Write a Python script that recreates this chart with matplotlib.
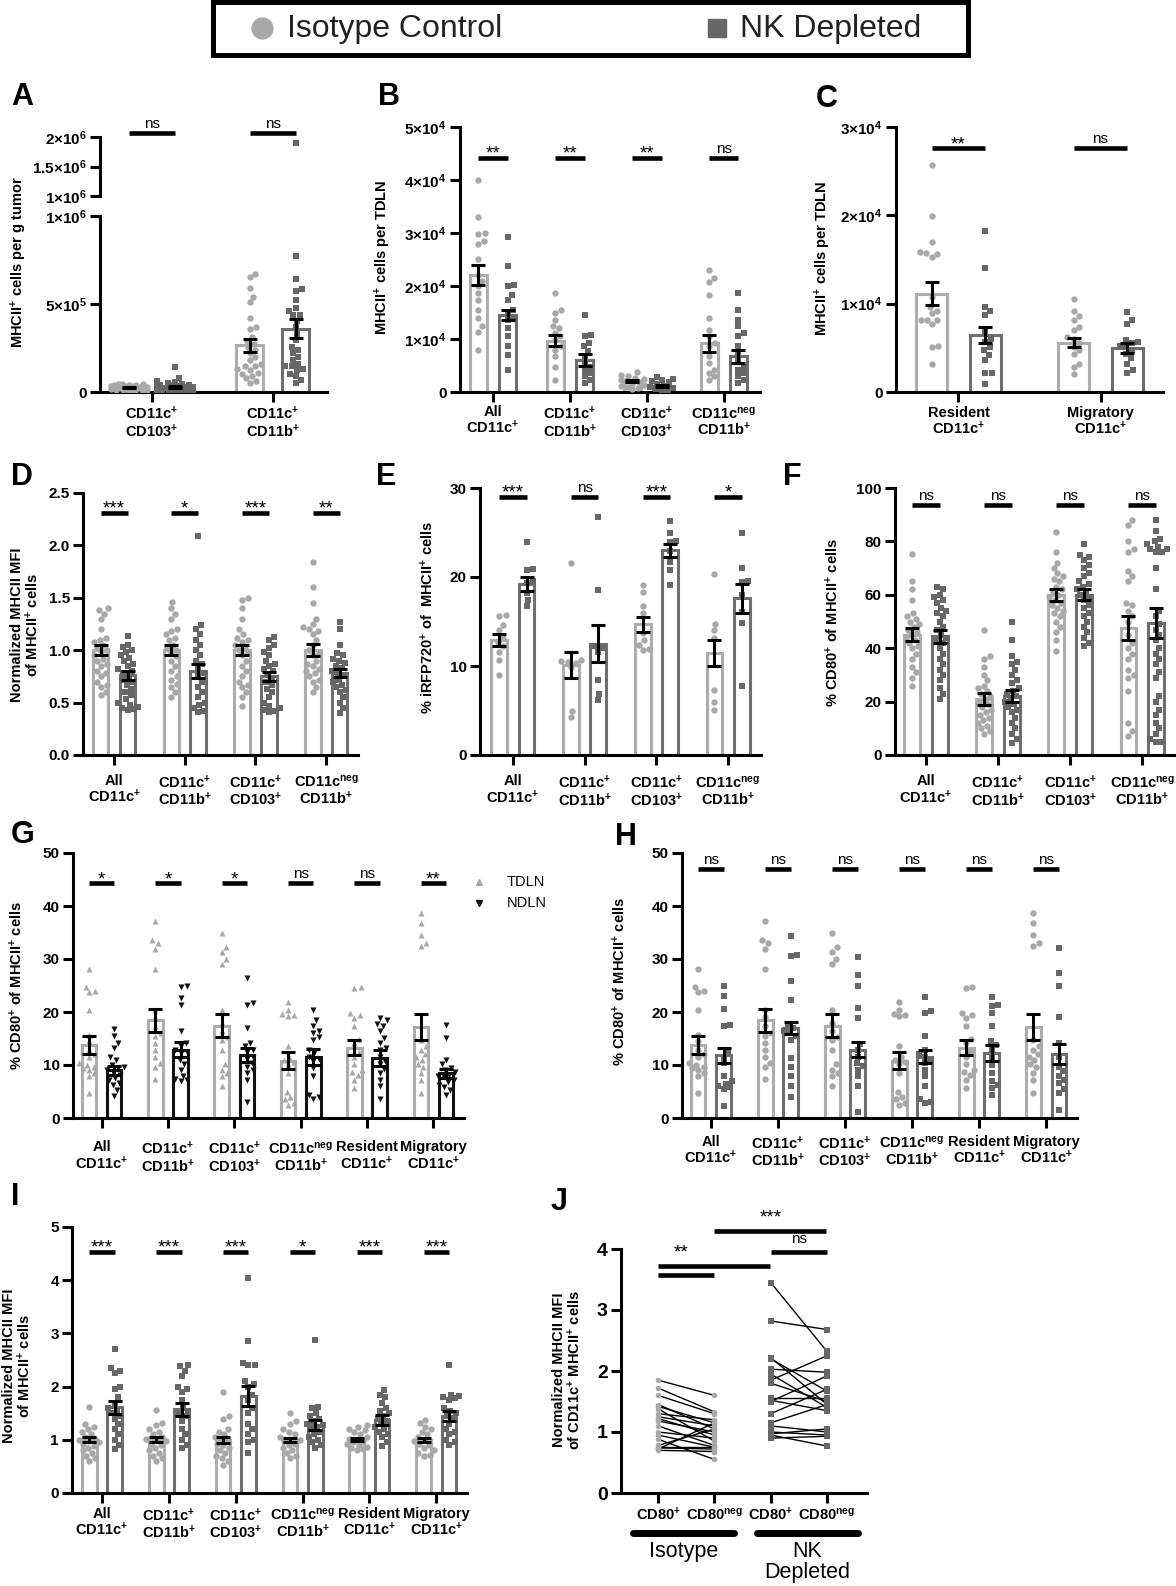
import numpy as np
import matplotlib
matplotlib.use("Agg")
import matplotlib.pyplot as plt
import matplotlib.transforms as mtrans
from matplotlib.lines import Line2D
from matplotlib.patches import Rectangle

W, H = 1176, 1586
plt.rcParams['font.family'] = ['Liberation Sans', 'DejaVu Sans']
plt.rcParams['mathtext.fontset'] = 'custom'
plt.rcParams['mathtext.rm'] = 'Liberation Sans'
plt.rcParams['mathtext.bf'] = 'Liberation Sans:bold'
plt.rcParams['mathtext.default'] = 'bf'

ISO_PT, ISO_EDGE = '#a8a8a8', '#adadad'
NK_PT, NK_EDGE = '#676767', '#6e6e6e'

# ---------------- data ----------------
cats2 = ['CD11c$^{+}$\nCD103$^{+}$', 'CD11c$^{+}$\nCD11b$^{+}$']
cats4 = ['All\nCD11c$^{+}$', 'CD11c$^{+}$\nCD11b$^{+}$', 'CD11c$^{+}$\nCD103$^{+}$', 'CD11c$^{neg}$\nCD11b$^{+}$']
cats6 = cats4 + ['Resident\nCD11c$^{+}$', 'Migratory\nCD11c$^{+}$']
catsC = ['Resident\nCD11c$^{+}$', 'Migratory\nCD11c$^{+}$']

# A: MHCII+ cells per g tumor
a_iso = [[4.8e4, 4.6e4, 4.4e4, 4.2e4, 4.0e4, 3.8e4, 3.6e4, 3.4e4, 3.2e4, 3.0e4, 2.9e4, 2.7e4, 2.5e4, 2.4e4,
          2.2e4, 2.1e4, 2.0e4, 1.8e4, 1.6e4, 1.5e4, 1.3e4, 1.2e4, 1.0e4, 0.9e4, 0.7e4, 0.5e4],
         [6.7e5, 6.55e5, 5.9e5, 5.4e5, 5.1e5, 4.2e5, 3.7e5, 3.6e5, 3.1e5, 2.9e5, 2.75e5, 2.55e5, 2.4e5, 2.2e5,
          2.0e5, 1.8e5, 1.6e5, 1.5e5, 1.45e5, 1.3e5, 1.25e5, 1.1e5, 1.05e5, 0.9e5, 0.8e5, 0.6e5, 0.5e5]]
a_nk = [[1.4e5, 8.0e4, 6.5e4, 5.5e4, 5.0e4, 4.5e4, 4.2e4, 4.0e4, 3.7e4, 3.5e4, 3.2e4, 3.0e4, 2.8e4, 2.5e4, 2.3e4,
         2.0e4, 1.9e4, 1.8e4, 1.6e4, 1.5e4, 1.3e4, 1.2e4, 1.0e4, 0.9e4, 0.8e4, 0.6e4, 0.5e4, 0.3e4],
        [1.9e6, 7.7e5, 6.4e5, 5.85e5, 5.75e5, 5.2e5, 4.8e5, 4.6e5, 4.4e5, 4.35e5, 4.05e5, 3.7e5, 3.3e5, 2.95e5,
         2.55e5, 2.4e5, 2.2e5, 2.0e5, 1.8e5, 1.6e5, 1.5e5, 1.45e5, 1.3e5, 1.25e5, 1.05e5, 0.9e5, 0.7e5, 0.5e5]]
a_iso_mean, a_iso_sem = [2.5e4, 2.65e5], [0.35e4, 0.35e5]
a_nk_mean, a_nk_sem = [3.0e4, 3.6e5], [0.5e4, 0.55e5]
a_sig = ['ns', 'ns']

# B: MHCII+ cells per TDLN (units of 1e4)
b_iso = [[4.0, 3.3, 3.0, 2.98, 2.84, 2.8, 2.5, 2.2, 2.1, 2.0, 1.86, 1.74, 1.55, 1.4, 1.24, 1.14, 0.8],
         [1.86, 1.55, 1.49, 1.36, 1.24, 1.2, 1.11, 1.05, 0.98, 0.86, 0.8, 0.67, 0.48, 0.23],
         [0.38, 0.33, 0.3, 0.27, 0.25, 0.22, 0.2, 0.18, 0.16, 0.14, 0.12, 0.1, 0.08, 0.05],
         [2.3, 2.15, 2.08, 1.83, 1.4, 1.17, 1.05, 0.92, 0.86, 0.67, 0.55, 0.42, 0.36, 0.3, 0.23]]
b_nk = [[2.93, 2.37, 2.02, 2.0, 1.83, 1.74, 1.55, 1.49, 1.4, 1.36, 1.2, 1.05, 0.86, 0.7, 0.42],
        [1.45, 1.08, 1.05, 0.92, 0.86, 0.77, 0.67, 0.55, 0.48, 0.42, 0.36, 0.3, 0.23, 0.17],
        [0.28, 0.25, 0.22, 0.2, 0.18, 0.15, 0.12, 0.1, 0.08, 0.06, 0.04, 0.02],
        [1.86, 1.55, 1.36, 1.24, 1.11, 1.05, 0.86, 0.73, 0.61, 0.48, 0.42, 0.36, 0.3, 0.23, 0.17]]
b_iso_mean, b_iso_sem = [2.2, 0.97, 0.2, 0.92], [0.19, 0.11, 0.02, 0.16]
b_nk_mean, b_nk_sem = [1.45, 0.6, 0.12, 0.67], [0.1, 0.11, 0.02, 0.13]
b_sig = ['**', '**', '**', 'ns']

# C: resident / migratory per TDLN (units of 1e4)
c_iso = [[2.57, 1.99, 1.7, 1.59, 1.57, 1.56, 1.53, 1.08, 0.96, 0.92, 0.89, 0.82, 0.82, 0.81, 0.77, 0.52, 0.51, 0.32],
         [1.05, 0.92, 0.86, 0.82, 0.74, 0.70, 0.62, 0.6, 0.55, 0.51, 0.47, 0.43, 0.32, 0.28, 0.2]]
c_nk = [[1.82, 1.4, 0.96, 0.92, 0.87, 0.68, 0.6, 0.57, 0.51, 0.47, 0.42, 0.36, 0.22, 0.22, 0.09],
        [0.91, 0.82, 0.77, 0.59, 0.57, 0.55, 0.52, 0.51, 0.47, 0.43, 0.38, 0.32, 0.25, 0.21]]
c_iso_mean, c_iso_sem = [1.11, 0.56], [0.13, 0.055]
c_nk_mean, c_nk_sem = [0.65, 0.5], [0.09, 0.06]
c_sig = ['**', 'ns']

# D: normalized MHCII MFI
d_iso = [[1.4, 1.38, 1.35, 1.3, 1.2, 1.12, 1.1, 1.08, 1.05, 1.03, 1.0, 0.98, 0.95, 0.92, 0.9, 0.87, 0.85, 0.8,
          0.78, 0.75, 0.7, 0.67, 0.65, 0.6, 0.57],
         [1.46, 1.4, 1.35, 1.3, 1.2, 1.18, 1.15, 1.12, 1.1, 1.05, 1.02, 1.0, 0.97, 0.94, 0.9, 0.85, 0.8, 0.75,
          0.72, 0.68, 0.65, 0.6, 0.55],
         [1.5, 1.48, 1.4, 1.3, 1.2, 1.15, 1.12, 1.1, 1.08, 1.05, 1.02, 1.0, 0.97, 0.95, 0.9, 0.85, 0.8, 0.75, 0.7,
          0.67, 0.65, 0.6, 0.55, 0.47],
         [1.84, 1.6, 1.45, 1.3, 1.25, 1.22, 1.2, 1.18, 1.15, 1.1, 1.05, 1.0, 0.97, 0.95, 0.9, 0.87, 0.85, 0.82, 0.8,
          0.78, 0.75, 0.72, 0.7, 0.65, 0.6]]
d_nk = [[1.14, 1.05, 1.03, 1.0, 0.98, 0.95, 0.93, 0.9, 0.87, 0.85, 0.82, 0.8, 0.78, 0.75, 0.72, 0.7, 0.67, 0.63,
         0.6, 0.57, 0.53, 0.5, 0.48, 0.46, 0.45, 0.44, 0.43],
        [2.09, 1.24, 1.2, 1.15, 1.1, 1.05, 1.0, 0.95, 0.9, 0.87, 0.82, 0.78, 0.75, 0.7, 0.65, 0.6, 0.55, 0.5, 0.48,
         0.45, 0.42, 0.41],
        [1.13, 1.1, 1.05, 1.02, 0.98, 0.95, 0.9, 0.87, 0.85, 0.82, 0.8, 0.77, 0.73, 0.7, 0.67, 0.63, 0.6, 0.55, 0.5,
         0.47, 0.45, 0.43, 0.42, 0.41],
        [1.27, 1.2, 1.05, 0.97, 0.95, 0.92, 0.9, 0.88, 0.85, 0.83, 0.8, 0.78, 0.75, 0.72, 0.7, 0.67, 0.65, 0.62, 0.6,
         0.55, 0.5, 0.45, 0.4]]
d_iso_mean, d_iso_sem = [1.0, 1.0, 1.0, 1.0], [0.045, 0.05, 0.05, 0.055]
d_nk_mean, d_nk_sem = [0.76, 0.8, 0.75, 0.78], [0.04, 0.065, 0.045, 0.04]
d_sig = ['***', '*', '***', '**']

# E: % iRFP720+ of MHCII+ cells
e_iso = [[15.7, 15.6, 14.6, 14.0, 13.1, 12.7, 12.2, 11.6, 10.7, 9.0],
         [21.6, 10.7, 10.6, 10.5, 10.3, 9.9, 5.0, 4.3],
         [19.1, 18.3, 16.7, 15.9, 13.7, 12.9, 12.4, 11.9, 11.8],
         [20.3, 14.7, 14.0, 13.1, 7.3, 6.0, 5.1]]
e_nk = [[23.9, 20.9, 20.8, 19.5, 19.3, 18.2, 17.4, 16.7],
        [26.7, 18.5, 12.2, 12.0, 11.6, 8.4, 6.9, 6.2],
        [26.3, 24.9, 24.1, 23.9, 22.9, 21.7, 20.8, 19.1],
        [24.9, 21.0, 19.6, 19.4, 18.0, 16.1, 14.8, 7.8]]
e_iso_mean, e_iso_sem = [12.9, 10.1, 14.7, 11.5], [0.7, 1.5, 0.85, 1.45]
e_nk_mean, e_nk_sem = [19.2, 12.5, 23.0, 17.6], [0.75, 2.1, 0.7, 1.6]
e_sig = ['***', 'ns', '***', '*']

# F: % CD80+ of MHCII+ cells
f_iso = [[75.3, 65, 62, 58, 53, 52, 51, 50, 49, 48, 47, 46, 45, 44, 43, 42, 41, 40, 38, 36, 33, 31, 29, 26],
         [47, 37, 36, 33, 30, 28, 26, 25, 24, 23, 22, 21, 20, 19, 18, 17, 16, 15, 14, 13, 12, 11, 10, 9, 8],
         [83.5, 76, 72, 70, 68, 67, 66, 65, 63, 62, 61, 60, 59, 58, 57, 56, 55, 54, 53, 52, 50, 48, 46, 43, 39],
         [88, 86, 80, 77, 76, 69, 67, 65, 57, 56, 54, 52, 50, 45, 42, 40, 38, 36, 32, 30, 29, 24, 12, 9, 7]]
f_nk = [[63, 62, 60, 59, 58, 57, 55, 54, 53, 52, 50, 48, 47, 45, 44, 43, 42, 40, 38, 36, 34, 32, 30, 28, 25, 23, 21],
        [50, 43, 37, 35, 34, 32, 30, 28, 27, 25, 24, 23, 22, 21, 20, 19, 18, 17, 16, 14, 12, 10, 8, 6, 4.5],
        [79, 75, 74, 73, 71, 70, 68, 67, 65, 64, 63, 62, 61, 60, 59, 58, 56, 55, 53, 52, 50, 48, 46, 44, 42, 41],
        [88, 84, 81, 80, 79, 78, 77, 77, 76, 76, 70, 62, 54, 52, 49, 47, 45, 43, 40, 38, 36, 34, 31, 29, 22, 20,
         17, 15, 12, 10, 8, 6, 5, 5]]
f_iso_mean, f_iso_sem = [45, 21, 60, 47.5], [2.4, 2.1, 2.2, 4.4]
f_nk_mean, f_nk_sem = [44.5, 22, 60, 49.5], [2.4, 2.3, 2.1, 5.7]
f_sig = ['ns', 'ns', 'ns', 'ns']

# G: TDLN vs NDLN, % CD80+ of MHCII+ cells
g_tdln = [[28.1, 24.7, 23.9, 23.7, 20.4, 15.7, 14.5, 12.9, 11.6, 10.4, 9.7, 9.1, 8.5, 7.9, 4.8, 10.0, 9.4, 12.0],
          [37.2, 33.5, 33.0, 31.9, 28.1, 17.3, 15.4, 14.2, 12.9, 11.6, 10.4, 9.7, 7.4, 20.4, 19.0, 16.0],
          [35.0, 32.2, 31.4, 30.0, 29.1, 20.4, 16.4, 14.8, 12.9, 10.1, 9.1, 7.9, 6.0, 15.2, 8.5, 18.0],
          [21.8, 20.4, 19.7, 19.2, 13.5, 11.6, 10.1, 8.5, 5.0, 3.5, 2.8, 2.5, 11.0, 4.0, 10.5, 19.5],
          [24.8, 24.5, 19.4, 18.9, 17.3, 14.2, 11.6, 10.1, 9.1, 8.2, 7.2, 5.7, 15.0, 19.8, 8.7, 12.5],
          [38.7, 36.8, 34.6, 33.1, 32.5, 14.8, 13.5, 12.9, 11.6, 10.1, 8.5, 7.2, 4.7, 11.0, 12.0, 9.6]]
g_ndln = [[16.7, 15.4, 14.2, 13.2, 11.6, 11.0, 9.7, 9.1, 8.2, 7.2, 6.3, 5.3, 4.2, 9.4, 8.7, 10.0, 7.6, 6.6],
          [25.0, 24.8, 22.6, 21.4, 16.4, 14.2, 12.9, 12.3, 11.0, 10.1, 9.1, 7.9, 7.1, 6.9, 13.5, 12.5, 7.3],
          [26.4, 21.7, 21.4, 17.0, 14.2, 12.9, 11.6, 10.4, 9.7, 8.5, 7.2, 3.0, 13.5, 11.2, 9.0, 12.4],
          [20.4, 18.4, 17.3, 16.0, 14.8, 12.9, 11.6, 10.7, 9.4, 7.9, 4.4, 4.0, 3.5, 16.5, 12.3, 11.2, 15.2],
          [18.9, 18.4, 17.4, 16.4, 15.1, 14.2, 12.9, 11.6, 10.1, 8.5, 7.2, 6.0, 3.5, 17.8, 13.3, 10.8, 9.3],
          [17.6, 15.1, 11.0, 10.1, 9.1, 8.2, 7.2, 6.3, 5.3, 4.4, 9.5, 8.6, 7.7, 6.8, 5.8, 8.0]]
g_tdln_mean, g_tdln_sem = [13.8, 18.4, 17.4, 10.8, 13.3, 17.2], [1.65, 2.1, 2.2, 1.6, 1.4, 2.5]
g_ndln_mean, g_ndln_sem = [9.0, 12.9, 11.9, 11.5, 11.3, 8.4], [0.85, 1.35, 1.35, 1.55, 1.45, 0.8]
g_sig = ['*', '*', '*', 'ns', 'ns', '**']

# H: isotype (same TDLN values) vs NK depleted
h_nk = [[24.9, 23.0, 20.6, 17.5, 17.3, 11.6, 10.4, 7.9, 6.9, 6.1, 5.5, 2.2, 12.5, 6.5, 5.8],
        [34.4, 30.8, 30.5, 25.8, 22.3, 17.6, 17.0, 16.4, 14.8, 11.4, 9.7, 7.9, 6.0, 3.9, 16.0, 15.5],
        [30.4, 27.0, 24.9, 20.8, 18.8, 12.9, 11.6, 10.4, 9.1, 7.9, 6.0, 1.1, 14.0, 9.8],
        [22.8, 20.2, 19.9, 15.4, 12.9, 11.6, 10.4, 9.1, 7.9, 6.0, 3.6, 3.0, 12.0, 10.9, 2.9],
        [22.8, 21.4, 21.1, 19.8, 17.3, 14.5, 12.9, 11.4, 8.5, 6.9, 5.7, 4.4, 13.8, 10.0, 6.2],
        [32.1, 27.3, 25.0, 19.1, 14.2, 11.6, 9.7, 7.9, 6.6, 4.7, 1.5, 8.8, 7.2, 5.5]]
h_nk_mean, h_nk_sem = [11.8, 17.0, 12.9, 11.6, 12.3, 12.0], [1.35, 1.2, 1.4, 1.25, 1.55, 1.9]
h_sig = ['ns'] * 6

# I: normalized MHCII MFI, six populations
i_iso = [[1.62, 1.3, 1.25, 1.2, 1.15, 1.1, 1.05, 1.02, 1.0, 0.98, 0.95, 0.92, 0.88, 0.85, 0.8, 0.75, 0.7, 0.65, 0.6],
         [1.56, 1.32, 1.28, 1.2, 1.15, 1.1, 1.05, 1.02, 1.0, 0.97, 0.93, 0.9, 0.85, 0.8, 0.75, 0.7, 0.65, 0.6],
         [1.9, 1.45, 1.4, 1.2, 1.15, 1.1, 1.05, 1.0, 0.97, 0.93, 0.9, 0.85, 0.8, 0.75, 0.7, 0.65, 0.6, 0.52],
         [1.5, 1.35, 1.3, 1.2, 1.15, 1.1, 1.05, 1.02, 1.0, 0.97, 0.93, 0.9, 0.85, 0.8, 0.75, 0.7, 0.65],
         [1.28, 1.25, 1.2, 1.18, 1.15, 1.1, 1.05, 1.02, 1.0, 0.98, 0.95, 0.92, 0.9, 0.87, 0.85, 0.82, 0.8],
         [1.38, 1.32, 1.25, 1.2, 1.15, 1.1, 1.05, 1.0, 0.97, 0.93, 0.9, 0.85, 0.8, 0.75, 0.72, 0.7]]
i_nk = [[2.7, 2.35, 2.3, 2.25, 2.0, 1.95, 1.8, 1.7, 1.6, 1.55, 1.5, 1.45, 1.4, 1.3, 1.2, 1.1, 1.0, 0.9, 0.82],
        [2.4, 2.38, 2.3, 2.2, 2.0, 1.95, 1.9, 1.75, 1.6, 1.55, 1.5, 1.45, 1.35, 1.2, 1.1, 1.0, 0.9, 0.85],
        [4.04, 2.85, 2.45, 2.4, 2.4, 2.1, 2.05, 2.0, 1.85, 1.75, 1.6, 1.5, 1.3, 1.2, 1.1, 1.0, 0.95, 0.75],
        [2.88, 1.62, 1.6, 1.5, 1.45, 1.4, 1.35, 1.3, 1.28, 1.25, 1.2, 1.15, 1.1, 1.05, 1.0, 0.95, 0.9, 0.85],
        [1.93, 1.85, 1.8, 1.7, 1.6, 1.55, 1.5, 1.45, 1.4, 1.35, 1.3, 1.25, 1.2, 1.15, 1.1, 1.05, 0.95, 0.88],
        [2.4, 1.85, 1.82, 1.8, 1.78, 1.75, 1.6, 1.55, 1.5, 1.45, 1.4, 1.3, 1.2, 1.15, 1.1, 1.0, 0.95, 0.9]]
i_iso_mean, i_iso_sem = [1.0] * 6, [0.045, 0.045, 0.06, 0.035, 0.03, 0.035]
i_nk_mean, i_nk_sem = [1.61, 1.57, 1.83, 1.28, 1.37, 1.45], [0.12, 0.12, 0.19, 0.1, 0.09, 0.09]
i_sig = ['***', '***', '***', '*', '***', '***']

# J: paired CD80+ / CD80neg MFI
j_cats = ['CD80$^{+}$', 'CD80$^{neg}$', 'CD80$^{+}$', 'CD80$^{neg}$']
j_iso_pos = [1.85, 1.72, 1.6, 1.45, 1.42, 1.38, 1.3, 1.25, 1.22, 1.18, 1.1, 1.0, 0.95, 0.88, 0.78, 0.75, 0.74, 0.72, 0.7]
j_iso_neg = [1.6, 1.33, 1.3, 1.05, 1.15, 0.85, 1.2, 1.1, 0.95, 1.0, 0.78, 0.9, 0.75, 0.55, 1.05, 0.75, 0.72, 1.15, 0.68]
j_nk_pos = [3.45, 2.82, 2.22, 2.2, 2.03, 1.95, 1.85, 1.8, 1.55, 1.52, 1.5, 1.3, 1.15, 1.1, 1.0, 0.97, 0.95, 0.9]
j_nk_neg = [2.32, 2.68, 1.45, 1.67, 1.98, 1.4, 2.25, 1.5, 1.55, 1.35, 1.92, 1.7, 1.45, 1.0, 0.95, 1.05, 0.77, 0.93]


# ---------------- helpers ----------------
fig = plt.figure(figsize=(W / 100, H / 100), dpi=100)


def ax_px(x0, y0, x1, y1):
    return fig.add_axes([x0 / W, 1 - y1 / H, (x1 - x0) / W, (y1 - y0) / H])


def style(ax):
    for s in ['top', 'right']:
        ax.spines[s].set_visible(False)
    for s in ['left', 'bottom']:
        ax.spines[s].set_linewidth(2.2)
    ax.tick_params(direction='out', length=7, width=2.2, labelsize=11, pad=2.5)


def swarm(ax, xc, vals, d=6.3, maxw=0.15):
    vals = np.asarray(vals, float)
    disp = ax.transData.transform(np.column_stack([np.full(vals.size, xc), vals]))
    x0 = disp[0, 0]
    ys = disp[:, 1]
    lim = ax.transData.transform([(xc + maxw, 0)])[0, 0] - x0
    placed, offs = [], np.zeros(vals.size)
    for i in np.argsort(ys):
        y = ys[i]
        near = [(px, py) for px, py in placed if abs(py - y) < d]
        cands = [0.0]
        for px, py in near:
            dx = np.sqrt(d * d - (py - y) ** 2)
            cands += [px + dx, px - dx]
        best = None
        for c in sorted(cands, key=abs):
            if abs(c) > lim:
                continue
            if all((c - px) ** 2 + (y - py) ** 2 >= d * d - 1e-6 for px, py in near):
                best = c
                break
        if best is None:
            grid = np.linspace(-lim, lim, 11)
            score = [min((g - px) ** 2 + (y - py) ** 2 for px, py in near) for g in grid]
            best = grid[int(np.argmax(score))]
        placed.append((best, y))
        offs[i] = best
    back = ax.transData.inverted().transform(np.column_stack([x0 + offs, ys]))
    return back[:, 0]


def sig_marks(ax, xs0, xs1, labels, y):
    for a, b, lab in zip(xs0, xs1, labels):
        ax.plot([a, b], [y, y], color='black', lw=3.3, solid_capstyle='butt', clip_on=False, zorder=5)
        star = '*' in lab
        ax.annotate(lab, ((a + b) / 2, y), xytext=(0, -3.5 if star else 1.5), textcoords='offset points',
                    ha='center', va='bottom', fontsize=13.5 if star else 11, annotation_clip=False)


def bar_panel(ax, cats, series, ylim, yticks, yticklabels, sig=None, sig_y=None, xpad=(0.44, 0.46),
              top_cut=None, lpad=2.5):
    n = len(cats)
    ax.set_xlim(-xpad[0], n - 1 + xpad[1])
    ax.set_ylim(*ylim)
    style(ax)
    ax.tick_params(axis='x', pad=lpad)
    offs = [-0.19, 0.19]
    for k, s in enumerate(series):
        xs = np.arange(n) + offs[k]
        sc = s.get('scale', 1.0)
        ax.bar(xs, np.asarray(s['mean']) * sc, width=0.22, facecolor='white', edgecolor=s['edge'],
               linewidth=2.2, zorder=2)
        for j in range(n):
            v = np.asarray(s['pts'][j], float) * sc
            if top_cut is not None:
                v = v[v <= top_cut]
            px = swarm(ax, xs[j], v)
            ax.scatter(px, v, s=s['size'], marker=s['marker'], color=s['color'], linewidths=0, zorder=3)
        ax.errorbar(xs, np.asarray(s['mean']) * sc, yerr=np.asarray(s['sem']) * sc, fmt='none', ecolor='black',
                    elinewidth=2.2, capsize=5, capthick=2.2, zorder=4)
    ax.set_xticks(range(n), labels=cats, fontweight='bold', linespacing=1.02, fontsize=10.5)
    ax.set_yticks(yticks, labels=yticklabels, fontweight='bold')
    if sig is not None:
        sig_marks(ax, np.arange(n) - 0.19, np.arange(n) + 0.19, sig, sig_y)


def iso(pts, mean, sem, scale=1.0):
    return dict(pts=pts, mean=mean, sem=sem, scale=scale, color=ISO_PT, edge=ISO_EDGE, marker='o', size=21)


def nk(pts, mean, sem, scale=1.0):
    return dict(pts=pts, mean=mean, sem=sem, scale=scale, color=NK_PT, edge=NK_EDGE, marker='s', size=17)


def pow_lab(m, e):
    return '%s×10$^{%d}$' % (m, e)


def ylab(x, y, text):
    fig.text(x / W, 1 - y / H, text, rotation=90, ha='center', va='center', fontsize=10.5,
             fontweight='bold', linespacing=1.0)


def letter(x, y, t):
    fig.text(x / W, 1 - y / H, t, fontsize=22, fontweight='bold', ha='left', va='top')


# ---------------- top legend ----------------
fig.add_artist(Rectangle((213 / W, 1 - 55 / H), 755 / W, 53 / H, transform=fig.transFigure,
                         facecolor='none', edgecolor='black', lw=3.6))
fig.add_artist(Line2D([262 / W], [1 - 28 / H], marker='o', ms=15, color=ISO_PT, ls='',
                      transform=fig.transFigure))
fig.add_artist(Line2D([717 / W], [1 - 28 / H], marker='s', ms=13, color=NK_PT, ls='',
                      transform=fig.transFigure))
fig.text(287 / W, 1 - 29 / H, 'Isotype Control', fontsize=23, va='center', ha='left', color='#222222')
fig.text(740 / W, 1 - 29 / H, 'NK Depleted', fontsize=23, va='center', ha='left', color='#222222')

# ---------------- A (broken axis) ----------------
axA = ax_px(100, 216, 327, 392)
bar_panel(axA, cats2, [iso(a_iso, a_iso_mean, a_iso_sem), nk(a_nk, a_nk_mean, a_nk_sem)],
          (0, 1e6), [0, 5e5, 1e6], ['0', pow_lab('5', 5), pow_lab('1', 6)], xpad=(0.43, 0.45), top_cut=1e6)
axA2 = ax_px(100, 137, 327, 196)
axA2.set_xlim(axA.get_xlim())
axA2.set_ylim(1e6, 2e6)
style(axA2)
axA2.spines['bottom'].set_visible(False)
axA2.set_xticks([])
axA2.set_yticks([1e6, 1.5e6, 2e6], labels=[pow_lab('1', 6), pow_lab('1.5', 6), pow_lab('2', 6)],
                fontweight='bold')
for j, s in enumerate([a_iso, a_nk]):
    for g in range(2):
        v = np.asarray(s[g], float)
        v = v[v > 1e6]
        if v.size:
            x = g + (-0.19 if j == 0 else 0.19)
            axA2.scatter(swarm(axA2, x, v), v, s=17 if j else 21, marker='s' if j else 'o',
                         color=NK_PT if j else ISO_PT, linewidths=0, zorder=3)
sig_marks(axA2, np.arange(2) - 0.19, np.arange(2) + 0.19, a_sig, 2.07e6)
ylab(19, 262, 'MHCII$^{+}$ cells per g tumor')
letter(11, 82, 'A')

# ---------------- B ----------------
axB = ax_px(460, 127, 760, 392)
bar_panel(axB, cats4, [iso(b_iso, b_iso_mean, b_iso_sem, 1e4), nk(b_nk, b_nk_mean, b_nk_sem, 1e4)],
          (0, 5e4), [0, 1e4, 2e4, 3e4, 4e4, 5e4], ['0'] + [pow_lab(str(k), 4) for k in range(1, 6)],
          b_sig, 4.42e4, xpad=(0.43, 0.47))
ylab(383, 257, 'MHCII$^{+}$ cells per TDLN')
letter(378, 82, 'B')

# ---------------- C ----------------
axC = ax_px(896, 127, 1163, 392)
bar_panel(axC, catsC, [iso(c_iso, c_iso_mean, c_iso_sem, 1e4), nk(c_nk, c_nk_mean, c_nk_sem, 1e4)],
          (0, 3e4), [0, 1e4, 2e4, 3e4], ['0'] + [pow_lab(str(k), 4) for k in range(1, 4)],
          c_sig, 2.76e4, xpad=(0.44, 0.44), lpad=3)
ylab(823, 258, 'MHCII$^{+}$ cells per TDLN')
letter(816, 84, 'C')

# ---------------- D ----------------
axD = ax_px(83, 493, 358, 755)
bar_panel(axD, cats4, [iso(d_iso, d_iso_mean, d_iso_sem), nk(d_nk, d_nk_mean, d_nk_sem)],
          (0, 2.5), [0, 0.5, 1, 1.5, 2, 2.5], ['0.0', '0.5', '1.0', '1.5', '2.0', '2.5'],
          d_sig, 2.31, xpad=(0.44, 0.45), lpad=6.5)
ylab(26, 625, 'Normalized MHCII MFI\nof MHCII$^{+}$ cells')
letter(11, 462, 'D')

# ---------------- E ----------------
axE = ax_px(480, 488, 761, 755)
bar_panel(axE, cats4, [iso(e_iso, e_iso_mean, e_iso_sem), nk(e_nk, e_nk_mean, e_nk_sem)],
          (0, 30), [0, 10, 20, 30], ['0', '10', '20', '30'], e_sig, 29.0, xpad=(0.46, 0.46), lpad=7)
ylab(428, 617, '% iRFP720$^{+}$ of  MHCII$^{+}$ cells')
letter(376, 462, 'E')

# ---------------- F ----------------
axF = ax_px(895, 488, 1176, 755)
bar_panel(axF, cats4, [iso(f_iso, f_iso_mean, f_iso_sem), nk(f_nk, f_nk_mean, f_nk_sem)],
          (0, 100), [0, 20, 40, 60, 80, 100], ['0', '20', '40', '60', '80', '100'],
          f_sig, 93.7, xpad=(0.43, 0.47), lpad=7)
ylab(833, 623, '% CD80$^{+}$ of MHCII$^{+}$ cells')
letter(783, 462, 'F')

# ---------------- G ----------------
axG = ax_px(73, 853, 464, 1118)
tdln = dict(pts=g_tdln, mean=g_tdln_mean, sem=g_tdln_sem, color=ISO_PT, edge=ISO_EDGE, marker='^', size=19)
ndln = dict(pts=g_ndln, mean=g_ndln_mean, sem=g_ndln_sem, color='#111111', edge='#111111', marker='v', size=19)
bar_panel(axG, cats6, [tdln, ndln], (0, 50), [0, 10, 20, 30, 40, 50], ['0', '10', '20', '30', '40', '50'],
          g_sig, 44.3, xpad=(0.43, 0.46), lpad=9)
ylab(17, 986, '% CD80$^{+}$ of MHCII$^{+}$ cells')
letter(11, 820, 'G')
for yy, mk, col, lab in [(882, '^', ISO_PT, 'TDLN'), (903, 'v', '#111111', 'NDLN')]:
    fig.add_artist(Line2D([479 / W], [1 - yy / H], marker=mk, ms=5, color=col, ls='', transform=fig.transFigure))
    fig.text(507 / W, 1 - yy / H, lab, fontsize=10.5, va='center', ha='left')

# ---------------- H ----------------
axH = ax_px(682, 853, 1077, 1118)
bar_panel(axH, cats6, [iso(g_tdln, g_tdln_mean, g_tdln_sem), nk(h_nk, h_nk_mean, h_nk_sem)],
          (0, 50), [0, 10, 20, 30, 40, 50], ['0', '10', '20', '30', '40', '50'],
          h_sig, 47.0, xpad=(0.43, 0.46), lpad=5)
ylab(620, 982, '% CD80$^{+}$ of MHCII$^{+}$ cells')
letter(615, 822, 'H')

# ---------------- I ----------------
axI = ax_px(72, 1227, 467, 1493)
bar_panel(axI, cats6, [iso(i_iso, i_iso_mean, i_iso_sem), nk(i_nk, i_nk_mean, i_nk_sem)],
          (0, 5), [0, 1, 2, 3, 4, 5], ['0', '1', '2', '3', '4', '5'], i_sig, 4.53, xpad=(0.45, 0.46), lpad=3)
ylab(18, 1366, 'Normalized MHCII MFI\nof MHCII$^{+}$ cells')
letter(11, 1182, 'I')

# ---------------- J ----------------
axJ = ax_px(621, 1249, 867, 1493)
axJ.set_xlim(-0.66, 3.71)
axJ.set_ylim(0, 4)
style(axJ)
for a, b in zip(j_iso_pos, j_iso_neg):
    axJ.plot([0, 1], [a, b], color='black', lw=1.0, zorder=2)
for a, b in zip(j_nk_pos, j_nk_neg):
    axJ.plot([2, 3], [a, b], color='black', lw=1.0, zorder=2)
axJ.scatter(np.zeros(len(j_iso_pos)), j_iso_pos, s=16, color=ISO_PT, linewidths=0, zorder=3)
axJ.scatter(np.ones(len(j_iso_neg)), j_iso_neg, s=16, color=ISO_PT, linewidths=0, zorder=3)
axJ.scatter(np.full(len(j_nk_pos), 2), j_nk_pos, s=14, marker='s', color=NK_PT, linewidths=0, zorder=3)
axJ.scatter(np.full(len(j_nk_neg), 3), j_nk_neg, s=14, marker='s', color=NK_PT, linewidths=0, zorder=3)
axJ.set_xticks(range(4), labels=j_cats, fontweight='bold', fontsize=10.5)
axJ.set_yticks([0, 1, 2, 3, 4], labels=['0', '1', '2', '3', '4'], fontweight='bold', fontsize=14)
for x0, x1, y in [(0, 1, 3.57), (0, 1.98, 3.72), (1.0, 2.98, 4.3), (2, 3, 3.95)]:
    axJ.plot([x0, x1], [y, y], color='black', lw=3.3, solid_capstyle='butt', clip_on=False)
for x, y, t in [(0.4, 3.72, '**'), (2.0, 4.3, '***'), (2.5, 3.95, 'ns')]:
    star = '*' in t
    axJ.annotate(t, (x, y), xytext=(0, 3 if star else 4), textcoords='offset points', ha='center',
                 va='bottom', fontsize=13.5 if star else 11, annotation_clip=False)
blend = mtrans.blended_transform_factory(axJ.transData, axJ.transAxes)
for x0, x1 in [(-0.45, 1.34), (1.75, 3.55)]:
    axJ.plot([x0, x1], [-0.164, -0.164], transform=blend, color='black', lw=5, solid_capstyle='round',
             clip_on=False)
axJ.text(0.45, -0.195, 'Isotype', transform=blend, ha='center', va='top', fontsize=15.5)
axJ.text(2.65, -0.195, 'NK\nDepleted', transform=blend, ha='center', va='top', fontsize=15.5, linespacing=1.0)
ylab(568, 1370, 'Normalized MHCII MFI\nof CD11c$^{+}$ MHCII$^{+}$ cells')
letter(551, 1187, 'J')

fig.savefig('out.png', dpi=100)
